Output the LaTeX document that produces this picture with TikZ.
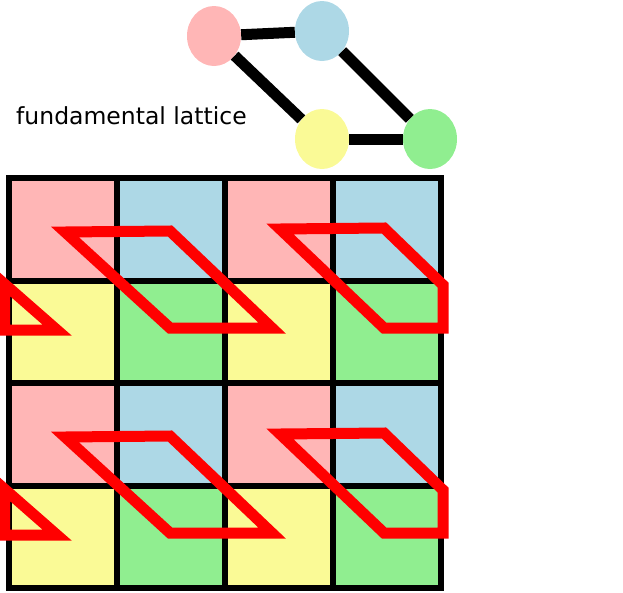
\documentclass[tikz,border=0pt]{standalone}
\usepackage{fontspec}
\setmainfont{DejaVu Sans}
\usetikzlibrary{shapes.geometric}
\definecolor{cpink}{RGB}{255,182,182}
\definecolor{cblue}{RGB}{173,216,230}
\definecolor{cyel}{RGB}{250,250,150}
\definecolor{cgreen}{RGB}{144,238,144}
\begin{document}
\begin{tikzpicture}[x=1pt,y=-1pt,
  site/.style={ellipse,minimum width=54pt,minimum height=60pt,inner sep=0pt},
  bond/.style={line width=11pt},
  cellline/.style={line width=6pt},
  cell/.style={red,line width=11pt,miter limit=10,line join=miter}]
\useasboundingbox (0,0) rectangle (623,592);
% fundamental lattice
\node[site,fill=cpink] (p) at (214,36) {};
\node[site,fill=cblue] (b) at (322,31) {};
\node[site,fill=cyel] (y) at (322,139) {};
\node[site,fill=cgreen] (g) at (430,139) {};
\draw[bond] (p) -- (b);
\draw[bond] (p) -- (y);
\draw[bond] (b) -- (g);
\draw[bond] (y) -- (g);
\node[anchor=west,inner sep=0pt,font=\fontsize{23.5}{26}\selectfont] (lbl) at (16,116) {fundamental lattice};
% grid
\foreach \r/\ya/\yb in {0/178/280.5,1/280.5/383,2/383/485.5,3/485.5/588}{
  \foreach \c/\xa/\xb in {0/9/117,1/117/225,2/225/333,3/333/441}{
    \pgfmathtruncatemacro{\rr}{mod(\r,2)}
    \pgfmathtruncatemacro{\cc}{mod(\c,2)}
    \ifnum\rr=0 \ifnum\cc=0 \def\col{cpink}\else\def\col{cblue}\fi
    \else \ifnum\cc=0 \def\col{cyel}\else\def\col{cgreen}\fi\fi
    \fill[\col] (\xa,\ya) rectangle (\xb,\yb);
  }}
\foreach \x in {9,117,225,333,441} \draw[cellline] (\x,178) -- (\x,588);
\foreach \y in {178,280.5,383,485.5,588} \draw[cellline] (6,\y) -- (444,\y);
% unit cells
\foreach \dy in {0,205}{
  \begin{scope}[yshift=-\dy pt]
  \draw[cell] (65,232) -- (170,231) -- (272,328) -- (170,328) -- cycle;
  \draw[cell] (280,229) -- (384,228) -- (443,285) -- (443,328) -- (384,328) -- cycle;
  \draw[cell] (4.5,284) -- (57,330) -- (4.5,330) -- cycle;
  \end{scope}}
\end{tikzpicture}
\end{document}
